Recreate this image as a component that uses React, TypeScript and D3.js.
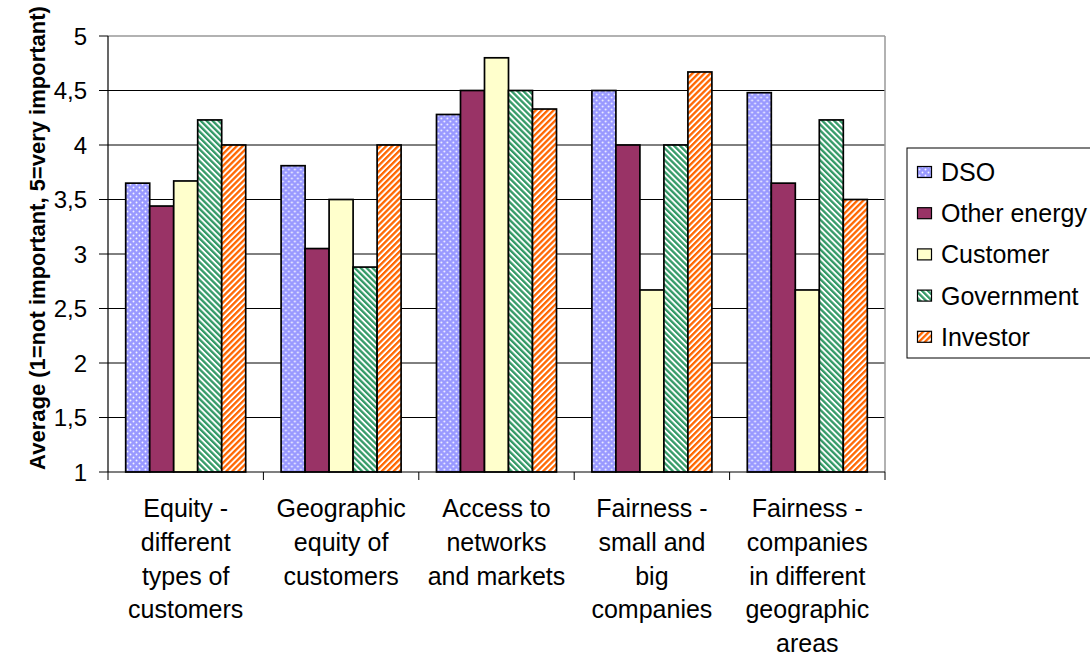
import React from "react";
import * as d3 from "d3";

// Categories (x axis), each label split into lines
const categories = ["equity", "geo", "access", "fairSize", "fairGeo"];
const categoryLines: string[][] = [
  ["Equity -", "different", "types of", "customers"],
  ["Geographic", "equity of", "customers"],
  ["Access to", "networks", "and markets"],
  ["Fairness -", "small and", "big", "companies"],
  ["Fairness -", "companies", "in different", "geographic", "areas"],
];

// Series (stakeholder groups)
const seriesNames = ["DSO", "Other energy", "Customer", "Government", "Investor"];
const dso = [3.65, 3.81, 4.28, 4.5, 4.48];
const otherEnergy = [3.44, 3.05, 4.5, 4.0, 3.65];
const customer = [3.67, 3.5, 4.8, 2.67, 2.67];
const government = [4.23, 2.88, 4.5, 4.0, 4.23];
const investor = [4.0, 4.0, 4.33, 4.67, 3.5];
const seriesValues = [dso, otherEnergy, customer, government, investor];

const yTicks = [1, 1.5, 2, 2.5, 3, 3.5, 4, 4.5, 5];
const yTitle = "Average (1=not important, 5=very important)";

const fills = ["url(#pDots)", "#993366", "#FFFFCC", "url(#pGreen)", "url(#pOrange)"];

const W = 1090;
const H = 657;
const plot = { left: 108, right: 885, top: 36, bottom: 472 };

export default function App() {
  const x0 = d3
    .scaleBand<string>()
    .domain(categories)
    .range([plot.left, plot.right]);
  const bw = x0.bandwidth();
  const groupPad = (bw - 120 * (bw / 155.4)) / 2;
  const x1 = d3
    .scaleBand<string>()
    .domain(seriesNames)
    .range([groupPad, bw - groupPad]);
  const y = d3.scaleLinear().domain([1, 5]).range([plot.bottom, plot.top]);
  const fmt = (v: number) => String(v).replace(".", ",");

  return (
    <svg
      width={W}
      height={H}
      style={{ position: "absolute", left: 0, top: 0, background: "#fff" }}
      fontFamily="Arial, 'Liberation Sans', sans-serif"
    >
      <defs>
        <pattern id="pDots" width="6" height="6" patternUnits="userSpaceOnUse">
          <rect width="6" height="6" fill="#9999FF" />
          <circle cx="1.5" cy="1.5" r="0.95" fill="#fff" opacity="0.9" />
          <circle cx="4.5" cy="4.5" r="0.95" fill="#fff" opacity="0.9" />
        </pattern>
        <pattern
          id="pGreen"
          width="4.2"
          height="4.2"
          patternUnits="userSpaceOnUse"
          patternTransform="rotate(-45)"
        >
          <rect width="4.2" height="4.2" fill="#fff" />
          <rect width="2.3" height="4.2" fill="#339966" />
        </pattern>
        <pattern
          id="pOrange"
          width="4.2"
          height="4.2"
          patternUnits="userSpaceOnUse"
          patternTransform="rotate(45)"
        >
          <rect width="4.2" height="4.2" fill="#fff" />
          <rect width="2.3" height="4.2" fill="#FF6600" />
        </pattern>
      </defs>

      <rect x={0} y={0} width={W} height={H} fill="#fff" />

      {/* horizontal gridlines */}
      {yTicks
        .filter((t) => t > 1 && t < 5)
        .map((t) => (
          <line
            key={"g" + t}
            x1={plot.left}
            x2={plot.right}
            y1={y(t)}
            y2={y(t)}
            stroke="#000"
            strokeWidth={1}
          />
        ))}
      {/* top and right frame */}
      <line x1={plot.left} x2={plot.right} y1={plot.top} y2={plot.top} stroke="#999" strokeWidth={1.5} />
      <line x1={plot.right} x2={plot.right} y1={plot.top} y2={plot.bottom} stroke="#999" strokeWidth={1.5} />

      {/* bars */}
      {categories.map((c, ci) => (
        <g key={c} transform={`translate(${x0(c)},0)`}>
          {seriesNames.map((s, si) => {
            const v = seriesValues[si][ci];
            return (
              <rect
                key={s}
                x={x1(s)}
                y={y(v)}
                width={x1.bandwidth()}
                height={y(1) - y(v)}
                fill={fills[si]}
                stroke="#000"
                strokeWidth={1.7}
              />
            );
          })}
        </g>
      ))}

      {/* y axis */}
      <line x1={plot.left} x2={plot.left} y1={plot.top} y2={plot.bottom} stroke="#000" strokeWidth={1.2} />
      {yTicks.map((t) => (
        <g key={"t" + t}>
          <line x1={plot.left - 9} x2={plot.left} y1={y(t)} y2={y(t)} stroke="#000" strokeWidth={1} />
          <text
            x={plot.left - 21}
            y={y(t)}
            dy="0.36em"
            textAnchor="end"
            fontSize={24}
            fill="#000"
          >
            {fmt(t)}
          </text>
        </g>
      ))}

      {/* x axis */}
      <line x1={plot.left} x2={plot.right} y1={plot.bottom} y2={plot.bottom} stroke="#000" strokeWidth={1.2} />
      {[...categories.map((c) => x0(c) as number), plot.right].map((xx, i) => (
        <line key={"xt" + i} x1={xx} x2={xx} y1={plot.bottom} y2={plot.bottom + 8} stroke="#000" strokeWidth={1} />
      ))}
      {categories.map((c, ci) => (
        <text
          key={"xl" + c}
          x={(x0(c) as number) + bw / 2}
          y={517}
          textAnchor="middle"
          fontSize={25}
          fill="#000"
        >
          {categoryLines[ci].map((ln, li) => (
            <tspan key={li} x={(x0(c) as number) + bw / 2} y={517 + li * 33.8}>
              {ln}
            </tspan>
          ))}
        </text>
      ))}

      {/* y axis title */}
      <text
        transform="translate(45,238) rotate(-90)"
        textAnchor="middle"
        fontSize={22}
        fontWeight="bold"
        fill="#000"
      >
        {yTitle}
      </text>

      {/* legend */}
      <rect x={907} y={148} width={200} height={210} fill="#fff" stroke="#000" strokeWidth={1} />
      {seriesNames.map((s, si) => {
        const cy = 172 + si * 41.2;
        return (
          <g key={"lg" + s}>
            <rect x={917.5} y={cy - 5.5} width={14} height={11} fill={fills[si]} stroke="#000" strokeWidth={1.2} />
            <text x={941} y={cy} dy="0.36em" fontSize={25} fill="#000">
              {s}
            </text>
          </g>
        );
      })}
    </svg>
  );
}
